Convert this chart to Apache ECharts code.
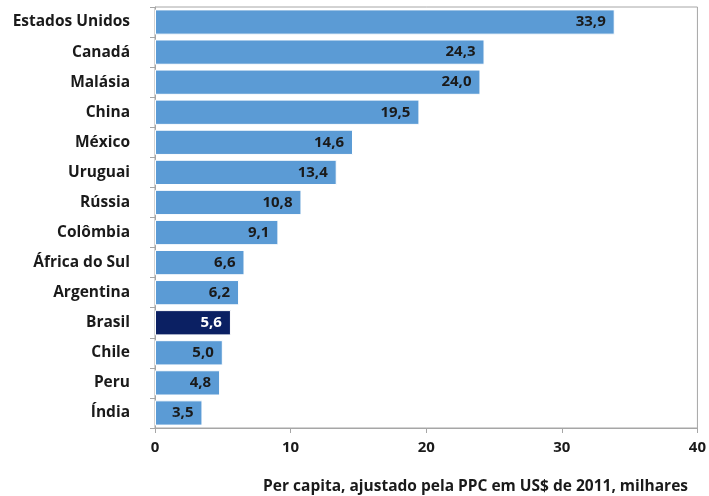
<!DOCTYPE html>
<html><head><meta charset="utf-8">
<script src="https://cdn.jsdelivr.net/npm/echarts@6/dist/echarts.min.js"></script>
<style>html,body{margin:0;padding:0;background:#fff}#c{width:709px;height:496px}</style>
</head><body><div id="c"></div>
<script>
const categories = ["Estados Unidos","Canadá","Malásia","China","México","Uruguai","Rússia","Colômbia","África do Sul","Argentina","Brasil","Chile","Peru","Índia"];
const values = [33.9,24.3,24.0,19.5,14.6,13.4,10.8,9.1,6.6,6.2,5.6,5.0,4.8,3.5];
const highlight = "Brasil";
const xTicks = [0,10,20,30,40];
const axisTitle = "Per capita, ajustado pela PPC em US$ de 2011, milhares";

const FONT = "'Open Sans', 'Liberation Sans', sans-serif";
const chart = echarts.init(document.getElementById('c'));
chart.setOption({
  animation: false,
  title: {
    text: axisTitle, right: 16, top: 474,
    textStyle: {fontFamily: FONT, fontSize: 15.5, fontWeight: 'bold', color: '#1a1a1a'}
  },
  grid: {left: 155, right: 9, top: 7, bottom: 68, show: true, borderColor: '#a6a6a6', borderWidth: 1},
  xAxis: {
    type: 'value', min: xTicks[0], max: xTicks[xTicks.length-1], interval: 10,
    axisLine: {show: true, lineStyle: {color: '#a6a6a6'}},
    axisTick: {show: true, length: 5, lineStyle: {color: '#a6a6a6'}},
    splitLine: {show: false},
    axisLabel: {fontFamily: FONT, fontSize: 15, fontWeight: 'bold', color: '#1a1a1a', margin: 12}
  },
  yAxis: {
    type: 'category', data: categories, inverse: true,
    axisLine: {show: true, lineStyle: {color: '#a6a6a6'}},
    axisTick: {show: true, length: 5, lineStyle: {color: '#a6a6a6'}},
    axisLabel: {fontFamily: FONT, fontSize: 15.5, fontWeight: 'bold', color: '#1a1a1a', margin: 25}
  },
  series: [{
    type: 'bar', barCategoryGap: '16%',
    data: categories.map((c, i) => ({
      value: values[i],
      itemStyle: {color: c === highlight ? '#0b2063' : '#5b9bd5'},
      label: {color: c === highlight ? '#ffffff' : '#1a1a1a'}
    })),
    itemStyle: {borderColor: '#ffffff', borderWidth: 1},
    label: {
      show: true, position: 'insideRight', distance: 9,
      fontFamily: FONT, fontSize: 15, fontWeight: 'bold',
      formatter: p => p.value.toFixed(1).replace('.', ',')
    }
  }]
});
</script>
</body></html>
